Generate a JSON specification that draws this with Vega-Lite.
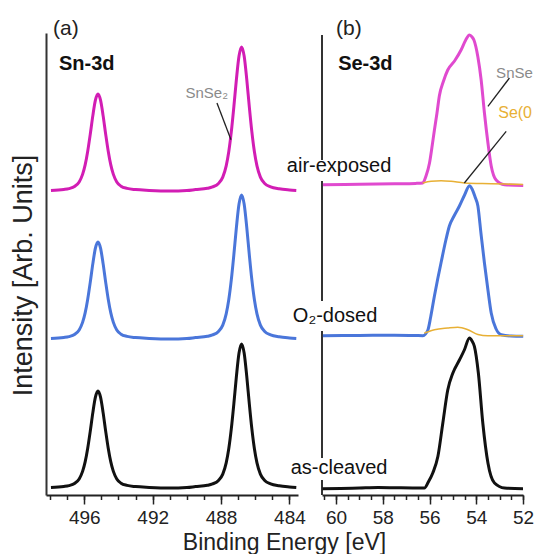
{
  "$schema": "https://vega.github.io/schema/vega-lite/v6.json",
  "padding": {"left": 9, "top": 17, "right": 0, "bottom": 0},
  "spacing": 24,
  "bounds": "flush",
  "background": "white",
  "config": {"view": {"stroke": null}, "font": "Liberation Sans"},
  "resolve": {"scale": {"color": "independent"}},
  "datasets": {
    "sn": [
      {"sample":"air-exposed","E":497.95,"I":304.4},{"sample":"air-exposed","E":497.2,"I":305.5},{"sample":"air-exposed","E":496.9,"I":306.4},{"sample":"air-exposed","E":496.55,"I":308.8},{"sample":"air-exposed","E":496.3,"I":313.1},{"sample":"air-exposed","E":496.1,"I":320.6},{"sample":"air-exposed","E":495.95,"I":330.1},{"sample":"air-exposed","E":495.8,"I":343.8},{"sample":"air-exposed","E":495.65,"I":360.9},{"sample":"air-exposed","E":495.5,"I":379.4},{"sample":"air-exposed","E":495.35,"I":394.8},{"sample":"air-exposed","E":495.2,"I":401},{"sample":"air-exposed","E":495.05,"I":394.8},{"sample":"air-exposed","E":494.9,"I":379.4},{"sample":"air-exposed","E":494.75,"I":360.9},{"sample":"air-exposed","E":494.6,"I":343.8},{"sample":"air-exposed","E":494.45,"I":330.1},{"sample":"air-exposed","E":494.3,"I":320.6},{"sample":"air-exposed","E":494.1,"I":313.1},{"sample":"air-exposed","E":493.85,"I":308.8},{"sample":"air-exposed","E":493.5,"I":306.6},{"sample":"air-exposed","E":493.0,"I":305.4},{"sample":"air-exposed","E":492.2,"I":304.6},{"sample":"air-exposed","E":491.0,"I":304.0},{"sample":"air-exposed","E":490.0,"I":304.5},{"sample":"air-exposed","E":489.5,"I":305.4},{"sample":"air-exposed","E":488.8,"I":306.7},{"sample":"air-exposed","E":488.5,"I":308.1},{"sample":"air-exposed","E":488.15,"I":311.6},{"sample":"air-exposed","E":487.9,"I":317.9},{"sample":"air-exposed","E":487.7,"I":329.1},{"sample":"air-exposed","E":487.55,"I":343.2},{"sample":"air-exposed","E":487.4,"I":363.3},{"sample":"air-exposed","E":487.25,"I":388.7},{"sample":"air-exposed","E":487.1,"I":416.1},{"sample":"air-exposed","E":486.95,"I":438.9},{"sample":"air-exposed","E":486.8,"I":448},{"sample":"air-exposed","E":486.65,"I":438.9},{"sample":"air-exposed","E":486.5,"I":416.1},{"sample":"air-exposed","E":486.35,"I":388.7},{"sample":"air-exposed","E":486.2,"I":363.3},{"sample":"air-exposed","E":486.05,"I":343.2},{"sample":"air-exposed","E":485.9,"I":329.1},{"sample":"air-exposed","E":485.7,"I":317.9},{"sample":"air-exposed","E":485.45,"I":311.6},{"sample":"air-exposed","E":485.1,"I":308.1},{"sample":"air-exposed","E":484.6,"I":306.2},{"sample":"air-exposed","E":484.0,"I":305.1},{"sample":"air-exposed","E":483.6,"I":304.6},
      {"sample":"O2-dosed","E":497.95,"I":156.4},{"sample":"O2-dosed","E":497.2,"I":157.5},{"sample":"O2-dosed","E":496.9,"I":158.4},{"sample":"O2-dosed","E":496.55,"I":160.8},{"sample":"O2-dosed","E":496.3,"I":165.1},{"sample":"O2-dosed","E":496.1,"I":172.6},{"sample":"O2-dosed","E":495.95,"I":182.1},{"sample":"O2-dosed","E":495.8,"I":195.8},{"sample":"O2-dosed","E":495.65,"I":212.9},{"sample":"O2-dosed","E":495.5,"I":231.4},{"sample":"O2-dosed","E":495.35,"I":246.8},{"sample":"O2-dosed","E":495.2,"I":253},{"sample":"O2-dosed","E":495.05,"I":246.8},{"sample":"O2-dosed","E":494.9,"I":231.4},{"sample":"O2-dosed","E":494.75,"I":212.9},{"sample":"O2-dosed","E":494.6,"I":195.8},{"sample":"O2-dosed","E":494.45,"I":182.1},{"sample":"O2-dosed","E":494.3,"I":172.6},{"sample":"O2-dosed","E":494.1,"I":165.1},{"sample":"O2-dosed","E":493.85,"I":160.8},{"sample":"O2-dosed","E":493.5,"I":158.6},{"sample":"O2-dosed","E":493.0,"I":157.4},{"sample":"O2-dosed","E":492.2,"I":156.6},{"sample":"O2-dosed","E":491.0,"I":156.0},{"sample":"O2-dosed","E":490.0,"I":156.5},{"sample":"O2-dosed","E":489.5,"I":157.4},{"sample":"O2-dosed","E":488.8,"I":158.7},{"sample":"O2-dosed","E":488.5,"I":160.1},{"sample":"O2-dosed","E":488.15,"I":163.6},{"sample":"O2-dosed","E":487.9,"I":169.9},{"sample":"O2-dosed","E":487.7,"I":181.1},{"sample":"O2-dosed","E":487.55,"I":195.2},{"sample":"O2-dosed","E":487.4,"I":215.3},{"sample":"O2-dosed","E":487.25,"I":240.7},{"sample":"O2-dosed","E":487.1,"I":268.1},{"sample":"O2-dosed","E":486.95,"I":290.9},{"sample":"O2-dosed","E":486.8,"I":300},{"sample":"O2-dosed","E":486.65,"I":290.9},{"sample":"O2-dosed","E":486.5,"I":268.1},{"sample":"O2-dosed","E":486.35,"I":240.7},{"sample":"O2-dosed","E":486.2,"I":215.3},{"sample":"O2-dosed","E":486.05,"I":195.2},{"sample":"O2-dosed","E":485.9,"I":181.1},{"sample":"O2-dosed","E":485.7,"I":169.9},{"sample":"O2-dosed","E":485.45,"I":163.6},{"sample":"O2-dosed","E":485.1,"I":160.1},{"sample":"O2-dosed","E":484.6,"I":158.2},{"sample":"O2-dosed","E":484.0,"I":157.1},{"sample":"O2-dosed","E":483.6,"I":156.6},
      {"sample":"as-cleaved","E":497.95,"I":7.4},{"sample":"as-cleaved","E":497.2,"I":8.5},{"sample":"as-cleaved","E":496.9,"I":9.4},{"sample":"as-cleaved","E":496.55,"I":11.8},{"sample":"as-cleaved","E":496.3,"I":16.1},{"sample":"as-cleaved","E":496.1,"I":23.6},{"sample":"as-cleaved","E":495.95,"I":33.1},{"sample":"as-cleaved","E":495.8,"I":46.8},{"sample":"as-cleaved","E":495.65,"I":63.9},{"sample":"as-cleaved","E":495.5,"I":82.4},{"sample":"as-cleaved","E":495.35,"I":97.8},{"sample":"as-cleaved","E":495.2,"I":104},{"sample":"as-cleaved","E":495.05,"I":97.8},{"sample":"as-cleaved","E":494.9,"I":82.4},{"sample":"as-cleaved","E":494.75,"I":63.9},{"sample":"as-cleaved","E":494.6,"I":46.8},{"sample":"as-cleaved","E":494.45,"I":33.1},{"sample":"as-cleaved","E":494.3,"I":23.6},{"sample":"as-cleaved","E":494.1,"I":16.1},{"sample":"as-cleaved","E":493.85,"I":11.8},{"sample":"as-cleaved","E":493.5,"I":9.6},{"sample":"as-cleaved","E":493.0,"I":8.4},{"sample":"as-cleaved","E":492.2,"I":7.6},{"sample":"as-cleaved","E":491.0,"I":7.0},{"sample":"as-cleaved","E":490.0,"I":7.5},{"sample":"as-cleaved","E":489.5,"I":8.4},{"sample":"as-cleaved","E":488.8,"I":9.7},{"sample":"as-cleaved","E":488.5,"I":11.1},{"sample":"as-cleaved","E":488.15,"I":14.6},{"sample":"as-cleaved","E":487.9,"I":20.9},{"sample":"as-cleaved","E":487.7,"I":32.1},{"sample":"as-cleaved","E":487.55,"I":46.2},{"sample":"as-cleaved","E":487.4,"I":66.3},{"sample":"as-cleaved","E":487.25,"I":91.7},{"sample":"as-cleaved","E":487.1,"I":119.1},{"sample":"as-cleaved","E":486.95,"I":141.9},{"sample":"as-cleaved","E":486.8,"I":151},{"sample":"as-cleaved","E":486.65,"I":141.9},{"sample":"as-cleaved","E":486.5,"I":119.1},{"sample":"as-cleaved","E":486.35,"I":91.7},{"sample":"as-cleaved","E":486.2,"I":66.3},{"sample":"as-cleaved","E":486.05,"I":46.2},{"sample":"as-cleaved","E":485.9,"I":32.1},{"sample":"as-cleaved","E":485.7,"I":20.9},{"sample":"as-cleaved","E":485.45,"I":14.6},{"sample":"as-cleaved","E":485.1,"I":11.1},{"sample":"as-cleaved","E":484.6,"I":9.2},{"sample":"as-cleaved","E":484.0,"I":8.1},{"sample":"as-cleaved","E":483.6,"I":7.6}
    ],
    "se": [
      {"sample":"air-exposed","E":60.56,"I":310.3},{"sample":"air-exposed","E":59.0,"I":310.7},{"sample":"air-exposed","E":57.5,"I":311.2},{"sample":"air-exposed","E":56.6,"I":311.6},{"sample":"air-exposed","E":56.29,"I":312},{"sample":"air-exposed","E":56.15,"I":319},{"sample":"air-exposed","E":56.0,"I":332},{"sample":"air-exposed","E":55.9,"I":347},{"sample":"air-exposed","E":55.79,"I":365},{"sample":"air-exposed","E":55.68,"I":382},{"sample":"air-exposed","E":55.58,"I":399},{"sample":"air-exposed","E":55.4,"I":414},{"sample":"air-exposed","E":55.22,"I":425},{"sample":"air-exposed","E":54.93,"I":434},{"sample":"air-exposed","E":54.65,"I":445},{"sample":"air-exposed","E":54.45,"I":455},{"sample":"air-exposed","E":54.29,"I":460},{"sample":"air-exposed","E":54.18,"I":458},{"sample":"air-exposed","E":54.1,"I":455},{"sample":"air-exposed","E":53.93,"I":438},{"sample":"air-exposed","E":53.79,"I":415},{"sample":"air-exposed","E":53.65,"I":382},{"sample":"air-exposed","E":53.5,"I":352},{"sample":"air-exposed","E":53.36,"I":329},{"sample":"air-exposed","E":53.15,"I":315},{"sample":"air-exposed","E":52.79,"I":310.3},{"sample":"air-exposed","E":51.99,"I":309.5},
      {"sample":"O2-dosed","E":60.56,"I":159.3},{"sample":"O2-dosed","E":59.0,"I":159.5},{"sample":"O2-dosed","E":57.5,"I":159.8},{"sample":"O2-dosed","E":56.6,"I":159.5},{"sample":"O2-dosed","E":56.28,"I":159.3},{"sample":"O2-dosed","E":56.07,"I":165},{"sample":"O2-dosed","E":55.95,"I":178},{"sample":"O2-dosed","E":55.79,"I":199},{"sample":"O2-dosed","E":55.65,"I":216},{"sample":"O2-dosed","E":55.5,"I":233},{"sample":"O2-dosed","E":55.3,"I":255},{"sample":"O2-dosed","E":55.15,"I":269},{"sample":"O2-dosed","E":54.95,"I":279},{"sample":"O2-dosed","E":54.72,"I":289},{"sample":"O2-dosed","E":54.5,"I":300},{"sample":"O2-dosed","E":54.29,"I":309.3},{"sample":"O2-dosed","E":54.18,"I":306},{"sample":"O2-dosed","E":54.05,"I":298},{"sample":"O2-dosed","E":53.93,"I":289},{"sample":"O2-dosed","E":53.8,"I":262},{"sample":"O2-dosed","E":53.65,"I":232},{"sample":"O2-dosed","E":53.5,"I":205},{"sample":"O2-dosed","E":53.36,"I":182},{"sample":"O2-dosed","E":53.15,"I":166},{"sample":"O2-dosed","E":52.93,"I":160.3},{"sample":"O2-dosed","E":52.5,"I":159},{"sample":"O2-dosed","E":51.99,"I":158.7},
      {"sample":"as-cleaved","E":60.58,"I":6.3},{"sample":"as-cleaved","E":59.8,"I":6.5},{"sample":"as-cleaved","E":59.0,"I":7},{"sample":"as-cleaved","E":58.2,"I":7.5},{"sample":"as-cleaved","E":57.4,"I":7.2},{"sample":"as-cleaved","E":56.6,"I":7},{"sample":"as-cleaved","E":56.22,"I":7},{"sample":"as-cleaved","E":56.05,"I":13},{"sample":"as-cleaved","E":55.86,"I":22},{"sample":"as-cleaved","E":55.64,"I":38.7},{"sample":"as-cleaved","E":55.43,"I":72},{"sample":"as-cleaved","E":55.22,"I":105},{"sample":"as-cleaved","E":55.0,"I":122},{"sample":"as-cleaved","E":54.72,"I":135},{"sample":"as-cleaved","E":54.51,"I":145},{"sample":"as-cleaved","E":54.29,"I":157},{"sample":"as-cleaved","E":54.18,"I":154},{"sample":"as-cleaved","E":54.08,"I":148.7},{"sample":"as-cleaved","E":53.91,"I":122},{"sample":"as-cleaved","E":53.72,"I":72},{"sample":"as-cleaved","E":53.5,"I":32},{"sample":"as-cleaved","E":53.22,"I":12},{"sample":"as-cleaved","E":52.79,"I":7},{"sample":"as-cleaved","E":52.0,"I":6.3}
    ],
    "se0": [
      {"sample":"air-exposed","E":56.29,"I":312},{"sample":"air-exposed","E":55.93,"I":313.7},{"sample":"air-exposed","E":55.5,"I":314.3},{"sample":"air-exposed","E":55.08,"I":313.7},{"sample":"air-exposed","E":54.51,"I":312},{"sample":"air-exposed","E":53.36,"I":311.3},{"sample":"air-exposed","E":52.0,"I":310.5},
      {"sample":"O2-dosed","E":56.22,"I":162},{"sample":"O2-dosed","E":55.79,"I":165.3},{"sample":"O2-dosed","E":55.22,"I":167},{"sample":"O2-dosed","E":54.79,"I":167.8},{"sample":"O2-dosed","E":54.36,"I":165.3},{"sample":"O2-dosed","E":53.93,"I":160.5},{"sample":"O2-dosed","E":53.5,"I":159.3},{"sample":"O2-dosed","E":52.0,"I":159.3}
    ]
  },
  "hconcat": [
    {
      "width": 252,
      "height": 462,
      "resolve": {"axis": {"x": "independent"}},
      "layer": [
        {
          "data": {"name": "sn"},
          "mark": {"type": "line", "strokeWidth": 3, "interpolate": "monotone"},
          "encoding": {
            "x": {
              "field": "E", "type": "quantitative",
              "scale": {"domain": [498.24, 483.5], "nice": false, "zero": false},
              "axis": {
                "orient": "bottom",
                "values": [496, 492, 488, 484],
                "format": "d",
                "tickSize": 9,
                "tickColor": "#222", "tickWidth": 1.5,
                "domainColor": "#222", "domainWidth": 2,
                "labelFontSize": 19, "labelColor": "#222", "labelPadding": 4,
                "labelOverlap": false, "labelFlush": false, "labelBound": false,
                "grid": false,
                "title": "Binding Energy [eV]",
                "titleFontSize": 23, "titleFontWeight": "normal", "titleColor": "#222",
                "titleX": 238, "titleY": 54, "titleBaseline": "alphabetic", "titleAlign": "center"
              }
            },
            "y": {
              "field": "I", "type": "quantitative",
              "scale": {"domain": [0, 462], "nice": false, "zero": false},
              "axis": {
                "ticks": false, "labels": false, "grid": false,
                "domainColor": "#333", "domainWidth": 2,
                "title": "Intensity [Arb. Units]",
                "titleFontSize": 27, "titleFontWeight": "normal", "titleColor": "#222",
                "titlePadding": 9, "titleY": 242
              }
            },
            "color": {
              "field": "sample", "type": "nominal",
              "scale": {"domain": ["air-exposed", "O2-dosed", "as-cleaved"], "range": ["#D21DB4", "#4A76DA", "#111111"]},
              "legend": null
            }
          }
        },
        {
          "data": {"values": [{"E1": 488.24, "I1": 392, "E2": 487.42, "I2": 355.3}]},
          "mark": {"type": "rule", "color": "#222", "strokeWidth": 1.3},
          "encoding": {
            "x": {
              "field": "E1", "type": "quantitative",
              "axis": {
                "orient": "bottom",
                "values": [498, 497, 496, 495, 494, 493, 492, 491, 490, 489, 488, 487, 486, 485, 484],
                "tickSize": 4.5, "tickColor": "#222", "tickWidth": 1.5,
                "domain": false, "labels": false, "grid": false, "title": null
              }
            },
            "x2": {"field": "E2"},
            "y": {"field": "I1", "type": "quantitative"},
            "y2": {"field": "I2"}
          }
        },
        {
          "data": {"values": [{"E": 497.83, "I": 466.5, "t": "(a)"}]},
          "mark": {"type": "text", "align": "left", "baseline": "middle", "fontSize": 21, "color": "#222"},
          "encoding": {"x": {"field": "E", "type": "quantitative", "axis": null}, "y": {"field": "I", "type": "quantitative"}, "text": {"field": "t"}}
        },
        {
          "data": {"values": [{"E": 497.48, "I": 431, "t": "Sn-3d"}]},
          "mark": {"type": "text", "align": "left", "baseline": "middle", "fontSize": 20, "fontWeight": "bold", "color": "#111"},
          "encoding": {"x": {"field": "E", "type": "quantitative", "axis": null}, "y": {"field": "I", "type": "quantitative"}, "text": {"field": "t"}}
        },
        {
          "data": {"values": [{"E": 488.84, "I": 402, "t": "SnSe₂"}]},
          "mark": {"type": "text", "align": "center", "baseline": "middle", "fontSize": 15, "color": "#8a8a8a"},
          "encoding": {"x": {"field": "E", "type": "quantitative", "axis": null}, "y": {"field": "I", "type": "quantitative"}, "text": {"field": "t"}}
        }
      ]
    },
    {
      "width": 201,
      "height": 462,
      "resolve": {"axis": {"x": "independent"}},
      "layer": [
        {
          "data": {"values": [{"E": 60.6, "I1": 0, "I2": 15}, {"E": 60.6, "I1": 37, "I2": 164}, {"E": 60.6, "I1": 194, "I2": 314}, {"E": 60.6, "I1": 335, "I2": 460}]},
          "mark": {"type": "rule", "color": "#333", "strokeWidth": 2},
          "encoding": {
            "x": {"field": "E", "type": "quantitative", "axis": null},
            "y": {"field": "I1", "type": "quantitative", "axis": null},
            "y2": {"field": "I2"}
          }
        },
        {
          "data": {"name": "se"},
          "mark": {"type": "line", "strokeWidth": 3, "interpolate": "monotone"},
          "encoding": {
            "x": {
              "field": "E", "type": "quantitative",
              "scale": {"domain": [60.6, 52], "nice": false, "zero": false},
              "axis": {
                "orient": "bottom",
                "values": [60, 58, 56, 54, 52],
                "format": "d",
                "tickSize": 9,
                "tickColor": "#222", "tickWidth": 1.5,
                "domainColor": "#222", "domainWidth": 2,
                "labelFontSize": 19, "labelColor": "#222", "labelPadding": 4,
                "labelOverlap": false, "labelFlush": false, "labelBound": false,
                "grid": false, "title": null
              }
            },
            "y": {
              "field": "I", "type": "quantitative",
              "scale": {"domain": [0, 462], "nice": false, "zero": false},
              "axis": null
            },
            "color": {
              "field": "sample", "type": "nominal",
              "scale": {"domain": ["air-exposed", "O2-dosed", "as-cleaved"], "range": ["#E04ACF", "#4A76DA", "#111111"]},
              "legend": null
            }
          }
        },
        {
          "data": {"name": "se0"},
          "mark": {"type": "line", "strokeWidth": 1.5, "color": "#E8B035", "interpolate": "monotone"},
          "encoding": {
            "x": {
              "field": "E", "type": "quantitative",
              "axis": {
                "orient": "bottom",
                "values": [60.5, 60, 59.5, 59, 58.5, 58, 57.5, 57, 56.5, 56, 55.5, 55, 54.5, 54, 53.5, 53, 52.5, 52],
                "tickSize": 4.5, "tickColor": "#222", "tickWidth": 1.5,
                "domain": false, "labels": false, "grid": false, "title": null
              }
            },
            "y": {"field": "I", "type": "quantitative", "axis": null},
            "detail": {"field": "sample"}
          }
        },
        {
          "data": {"values": [{"E1": 52.58, "I1": 417, "E2": 53.5, "I2": 388.7}, {"E1": 52.72, "I1": 363.7, "E2": 54.51, "I2": 312}]},
          "mark": {"type": "rule", "color": "#222", "strokeWidth": 1.3},
          "encoding": {
            "x": {"field": "E1", "type": "quantitative", "axis": null},
            "x2": {"field": "E2"},
            "y": {"field": "I1", "type": "quantitative", "axis": null},
            "y2": {"field": "I2"}
          }
        },
        {
          "data": {"values": [{"E": 60.0, "I": 466.5, "t": "(b)"}]},
          "mark": {"type": "text", "align": "left", "baseline": "middle", "fontSize": 21, "color": "#222"},
          "encoding": {"x": {"field": "E", "type": "quantitative", "axis": null}, "y": {"field": "I", "type": "quantitative", "axis": null}, "text": {"field": "t"}}
        },
        {
          "data": {"values": [{"E": 59.91, "I": 431, "t": "Se-3d"}]},
          "mark": {"type": "text", "align": "left", "baseline": "middle", "fontSize": 20, "fontWeight": "bold", "color": "#111"},
          "encoding": {"x": {"field": "E", "type": "quantitative", "axis": null}, "y": {"field": "I", "type": "quantitative", "axis": null}, "text": {"field": "t"}}
        },
        {
          "data": {"values": [{"E": 59.87, "I": 329, "t": "air-exposed"}, {"E": 60.04, "I": 179, "t": "O₂-dosed"}, {"E": 59.87, "I": 27, "t": "as-cleaved"}]},
          "mark": {"type": "text", "align": "center", "baseline": "middle", "fontSize": 20, "color": "#111"},
          "encoding": {"x": {"field": "E", "type": "quantitative", "axis": null}, "y": {"field": "I", "type": "quantitative", "axis": null}, "text": {"field": "t"}}
        },
        {
          "data": {"values": [{"E": 53.15, "I": 422, "t": "SnSe"}]},
          "mark": {"type": "text", "align": "left", "baseline": "middle", "fontSize": 15, "color": "#8a8a8a"},
          "encoding": {"x": {"field": "E", "type": "quantitative", "axis": null}, "y": {"field": "I", "type": "quantitative", "axis": null}, "text": {"field": "t"}}
        },
        {
          "data": {"values": [{"E": 53.06, "I": 382, "t": "Se(0"}]},
          "mark": {"type": "text", "align": "left", "baseline": "middle", "fontSize": 16, "color": "#E8B035"},
          "encoding": {"x": {"field": "E", "type": "quantitative", "axis": null}, "y": {"field": "I", "type": "quantitative", "axis": null}, "text": {"field": "t"}}
        }
      ]
    }
  ]
}
